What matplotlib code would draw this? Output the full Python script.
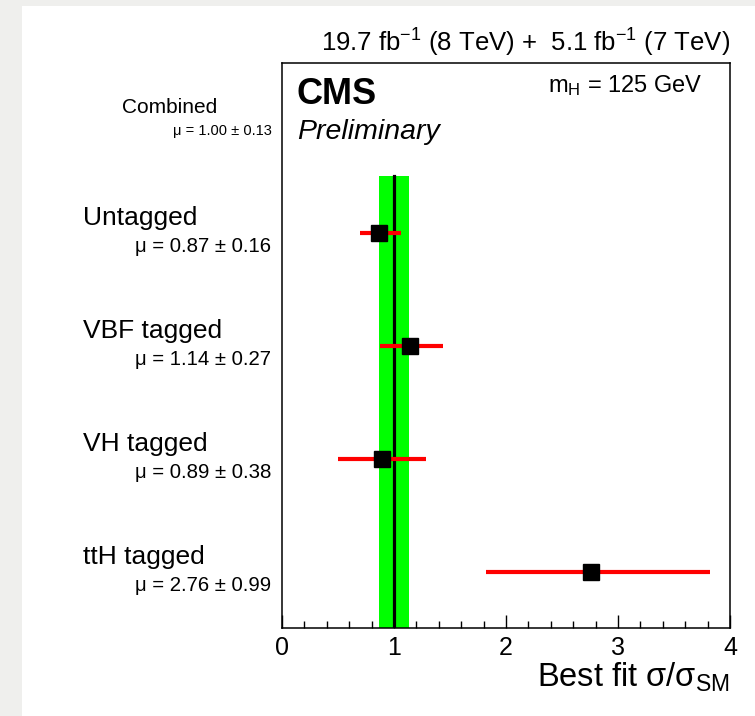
import matplotlib
matplotlib.use("Agg")
import matplotlib.pyplot as plt
import matplotlib.transforms as mtransforms
from matplotlib.patches import Rectangle
from matplotlib.ticker import MultipleLocator

plt.rcParams['font.family'] = ['Liberation Sans', 'DejaVu Sans']
plt.rcParams['mathtext.fontset'] = 'custom'
plt.rcParams['mathtext.rm'] = 'Liberation Sans'
plt.rcParams['mathtext.it'] = 'Liberation Sans:italic'
plt.rcParams['mathtext.bf'] = 'Liberation Sans:bold'
plt.rcParams['mathtext.default'] = 'regular'

# ---- data ----
categories = ["ttH tagged", "VH tagged", "VBF tagged", "Untagged"]
mu_values = [2.76, 0.89, 1.14, 0.87]
mu_errors = [0.99, 0.38, 0.27, 0.16]
err_low = [1.82, 0.50, 0.875, 0.70]
err_high = [3.82, 1.29, 1.44, 1.06]
combined_mu = 1.00
combined_err = 0.13
combined_label = "Combined"
x_ticks = [0, 1, 2, 3, 4]

W, H = 755, 716
fig = plt.figure(figsize=(W / 100, H / 100), dpi=100)
fig.patch.set_facecolor('#efefed')
fig.patches.append(Rectangle((22 / W, 0), 1 - 22 / W, 1 - 6 / H,
                             transform=fig.transFigure, facecolor='white',
                             edgecolor='none', zorder=-10))

ax = fig.add_axes([282 / W, 1 - 628 / H, (730 - 282) / W, (628 - 63) / H])
ax.set_zorder(5)
ax.patch.set_alpha(0)
ax.set_xlim(0, 4)
n = len(categories)
ax.set_ylim(0, n + 1)

ypos = [i + 0.5 for i in range(n)]
ycomb = n + 0.5

# combined band and line
ax.fill_betweenx([0, n], combined_mu - combined_err, combined_mu + combined_err,
                 color='#00ff00', lw=0, zorder=1)
ax.plot([combined_mu, combined_mu], [0, n], color='black', lw=2.3, zorder=2)

# per-category points
for y, m, lo, hi in zip(ypos, mu_values, err_low, err_high):
    ax.plot([lo, hi], [y, y], color='#ff0000', lw=3.0, solid_capstyle='butt', zorder=3)
    ax.plot([m], [y], marker='s', ms=12, color='black', zorder=4, ls='none')

ax.set_xticks(x_ticks)
ax.xaxis.set_minor_locator(MultipleLocator(0.2))
ax.tick_params(axis='x', which='major', direction='in', length=9.5, width=1.0,
               labelsize=18, pad=6, top=False)
ax.tick_params(axis='x', which='minor', direction='in', length=5, width=1.0, top=False)
ax.set_yticks([])
for s in ax.spines.values():
    s.set_linewidth(1.1)

ax.set_xlabel(r"Best fit $\sigma/\sigma_{SM}$", fontsize=23.5, loc='right', labelpad=0)

# labels on the left
tr = mtransforms.blended_transform_factory(fig.transFigure, ax.transData)
for y, c, m, e in zip(ypos, categories, mu_values, mu_errors):
    ax.text(83 / W, y + 0.13, c, transform=tr, ha='left', va='center', fontsize=19)
    ax.text(271 / W, y - 0.125, "\u03bc = %.2f \u00b1 %.2f" % (m, e), transform=tr,
            ha='right', va='center', fontsize=14.7)
ax.text(122 / W, ycomb + 0.105, combined_label, transform=tr, ha='left', va='center',
        fontsize=15)
ax.text(272 / W, ycomb - 0.105, "\u03bc = %.2f \u00b1 %.2f" % (combined_mu, combined_err),
        transform=tr, ha='right', va='center', fontsize=10.5)

# texts inside / above
fig.text(730 / W, 1 - 43 / H, r"19.7 fb$^{-1}$ (8 TeV) +  5.1 fb$^{-1}$ (7 TeV)",
         ha='right', va='center', fontsize=18.5)
ax.text(15 / 448, 1 - (95 - 63) / 565, "CMS", transform=ax.transAxes, ha='left',
        va='center', fontsize=26, fontweight='bold')
ax.text(15 / 448, 1 - (132 - 63) / 565, "Preliminary", transform=ax.transAxes, ha='left',
        va='center', fontsize=20.5, fontstyle='italic')
ax.text(1 - 27 / 448, 1 - (86 - 63) / 565, r"m$_H$ = 125 GeV", transform=ax.transAxes,
        ha='right', va='center', fontsize=17)

fig.savefig("out.png", dpi=100, facecolor=fig.get_facecolor())
